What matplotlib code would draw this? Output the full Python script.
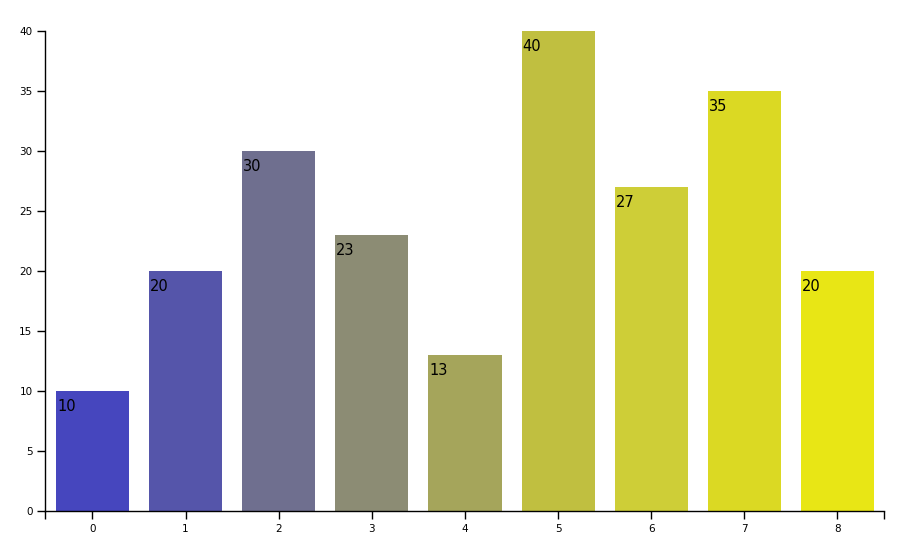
import matplotlib
matplotlib.use("Agg")
import matplotlib.pyplot as plt

categories = [0, 1, 2, 3, 4, 5, 6, 7, 8]
values = [10, 20, 30, 23, 13, 40, 27, 35, 20]
bar_colors = ["#4646BE", "#5555AA", "#6F6F8F", "#8C8C74", "#A5A55B",
              "#C0BF40", "#CECE37", "#DBD923", "#E8E615"]

fig = plt.figure(figsize=(9.2, 5.45), dpi=100)
ax = fig.add_axes([45 / 920, 34 / 545, 839 / 920, 480 / 545])

ax.bar(categories, values, width=0.785, color=bar_colors)
for x, v in zip(categories, values):
    ax.annotate(str(v), (x - 0.785 / 2, v), xytext=(1, -20),
                textcoords="offset pixels", fontsize=10.5, va="baseline", ha="left")

ax.set_xlim(-0.51, 8.5)
ax.set_ylim(0, 40)
ax.set_xticks(categories)
ax.set_yticks(range(0, 41, 5))
ax.set_xticks([-0.51, 8.5], minor=True)
ax.tick_params(axis="both", which="both", length=6, width=1, labelsize=7.5, pad=3)
ax.tick_params(axis="x", which="minor", labelbottom=False)
for s in ["top", "right"]:
    ax.spines[s].set_visible(False)
for s in ["left", "bottom"]:
    ax.spines[s].set_linewidth(1)

fig.savefig("out.png", dpi=100)
